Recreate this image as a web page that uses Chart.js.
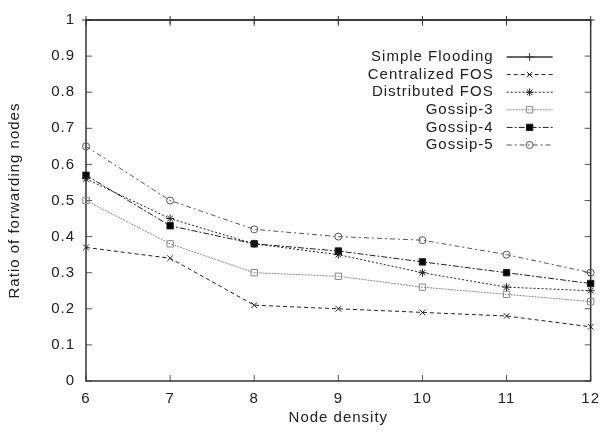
<!DOCTYPE html>
<html>
<head>
<meta charset="utf-8">
<script src="https://cdn.jsdelivr.net/npm/chart.js@4/dist/chart.umd.min.js"></script>
<style>
  html, body { margin: 0; padding: 0; background: #fff; }
  #wrap { width: 609px; height: 436px; position: relative; }
</style>
</head>
<body>
<div id="wrap"><canvas id="myChart"></canvas></div>
<script>
// values
var nodeDensity = [6, 7, 8, 9, 10, 11, 12];
var simpleFlooding = [1, 1, 1, 1, 1, 1, 1];
var centralizedFOS = [0.37, 0.34, 0.21, 0.20, 0.19, 0.18, 0.15];
var distributedFOS = [0.56, 0.45, 0.38, 0.35, 0.30, 0.26, 0.25];
var gossip3 = [0.50, 0.38, 0.30, 0.29, 0.26, 0.24, 0.22];
var gossip4 = [0.57, 0.43, 0.38, 0.36, 0.33, 0.30, 0.27];
var gossip5 = [0.65, 0.50, 0.42, 0.40, 0.39, 0.35, 0.30];
var seriesNames = ["Simple Flooding", "Centralized FOS", "Distributed FOS", "Gossip-3", "Gossip-4", "Gossip-5"];
var yTickLabels = ["0", "0.1", "0.2", "0.3", "0.4", "0.5", "0.6", "0.7", "0.8", "0.9", "1"];

function pts(arr) {
  return arr.map(function(v, i){ return {x: nodeDensity[i], y: v}; });
}

var FONT = "'Liberation Sans', Arial, sans-serif";
var TXT = '#222';

function ds(label, arr, color, dash, style, radius, fill, width) {
  return {
    label: label,
    data: pts(arr),
    borderColor: color,
    borderWidth: width || 1,
    borderDash: dash,
    pointStyle: style,
    pointRadius: radius,
    pointHoverRadius: radius,
    pointBorderColor: color,
    pointBorderWidth: 1,
    pointBackgroundColor: fill,
    tension: 0,
    clip: false
  };
}

// letter spacing so the text is as wide as in the picture
var spacing = {
  id: 'spacing',
  beforeUpdate: function(chart){ chart.ctx.letterSpacing = '1px'; },
  beforeDraw: function(chart){ chart.ctx.letterSpacing = '1px'; }
};

// frame + inward ticks on all four sides
var frame = {
  id: 'frame',
  beforeDatasetsDraw: function(chart){
    var a = chart.chartArea, ctx = chart.ctx;
    var xs = chart.scales.x, ys = chart.scales.y;
    ctx.save();
    ctx.strokeStyle = '#555';
    ctx.lineWidth = 1;
    ctx.beginPath();
    xs.ticks.forEach(function(t, i){
      var px = xs.getPixelForTick(i);
      ctx.moveTo(px, a.bottom); ctx.lineTo(px, a.bottom - 6);
      ctx.moveTo(px, a.top); ctx.lineTo(px, a.top + 6);
    });
    ys.ticks.forEach(function(t, i){
      var py = ys.getPixelForTick(i);
      ctx.moveTo(a.left, py); ctx.lineTo(a.left + 6, py);
      ctx.moveTo(a.right, py); ctx.lineTo(a.right - 6, py);
    });
    ctx.stroke();
    ctx.strokeStyle = '#333';
    ctx.lineWidth = 1.5;
    ctx.strokeRect(a.left, a.top, a.right - a.left, a.bottom - a.top);
    ctx.restore();
  }
};

// gnuplot style key: text right aligned, sample line to its right
var key = {
  id: 'key',
  afterDatasetsDraw: function(chart){
    var a = chart.chartArea, ctx = chart.ctx;
    var textRight = a.right - 97;
    var y0 = a.top + 37;
    var rowH = 17.6;
    ctx.save();
    ctx.letterSpacing = '1px';
    ctx.font = '15px ' + FONT;
    ctx.textAlign = 'right';
    ctx.textBaseline = 'middle';
    chart.data.datasets.forEach(function(d, i){
      var y = y0 + i * rowH;
      ctx.fillStyle = TXT;
      ctx.fillText(d.label, textRight, y);
      ctx.beginPath();
      ctx.setLineDash(d.borderDash || []);
      ctx.strokeStyle = d.borderColor;
      ctx.lineWidth = d.borderWidth;
      ctx.moveTo(textRight + 13, y);
      ctx.lineTo(textRight + 59, y);
      ctx.stroke();
      ctx.setLineDash([]);
      ctx.strokeStyle = d.pointBorderColor;
      ctx.fillStyle = d.pointBackgroundColor;
      ctx.lineWidth = 1;
      Chart.helpers.drawPoint(ctx, {
        pointStyle: d.pointStyle, radius: d.pointRadius, rotation: 0, borderWidth: 1
      }, textRight + 36, y);
    });
    ctx.restore();
  }
};

var ctx = document.getElementById("myChart").getContext('2d');
var myChart = new Chart(ctx, {
  type: 'line',
  data: {
    datasets: [
      ds(seriesNames[0], simpleFlooding, '#333', [], 'cross', 4, '#333', 1.5),
      ds(seriesNames[1], centralizedFOS, '#222', [4, 3], 'crossRot', 4, '#222'),
      ds(seriesNames[2], distributedFOS, '#222', [2, 2], 'star', 4, '#222'),
      ds(seriesNames[3], gossip3, '#8a8a8a', [2, 1], 'rect', 4.5, 'rgba(0,0,0,0)'),
      ds(seriesNames[4], gossip4, '#222', [6, 2, 2, 2], 'rect', 4.5, '#000'),
      ds(seriesNames[5], gossip5, '#555', [5, 3, 2, 3], 'circle', 3.5, 'rgba(0,0,0,0)')
    ]
  },
  options: {
    responsive: true,
    maintainAspectRatio: false,
    animation: false,
    layout: { padding: { top: 14, right: 12, left: 0, bottom: 0 } },
    plugins: {
      legend: { display: false },
      tooltip: { enabled: false }
    },
    scales: {
      x: {
        type: 'linear',
        min: nodeDensity[0],
        max: nodeDensity[nodeDensity.length - 1],
        grid: { display: false, drawTicks: false },
        border: { display: false },
        ticks: { stepSize: 1, padding: 9, color: TXT, font: { family: FONT, size: 15 } },
        title: { display: true, text: 'Node density', color: TXT,
                 font: { family: FONT, size: 15 }, padding: { top: 0, bottom: 9 } },
        afterFit: function(s){ s.height = 55; }
      },
      y: {
        min: 0,
        max: 1,
        grid: { display: false, drawTicks: false },
        border: { display: false },
        ticks: {
          stepSize: 0.1, padding: 11, color: TXT, font: { family: FONT, size: 15 },
          callback: function(v){ return yTickLabels[Math.round(v * 10)]; }
        },
        title: { display: true, text: 'Ratio of forwarding nodes', color: TXT,
                 font: { family: FONT, size: 15 }, padding: { top: 6, bottom: 0 } },
        afterFit: function(s){ s.width = 86; }
      }
    }
  },
  plugins: [spacing, frame, key]
});
</script>
</body>
</html>
